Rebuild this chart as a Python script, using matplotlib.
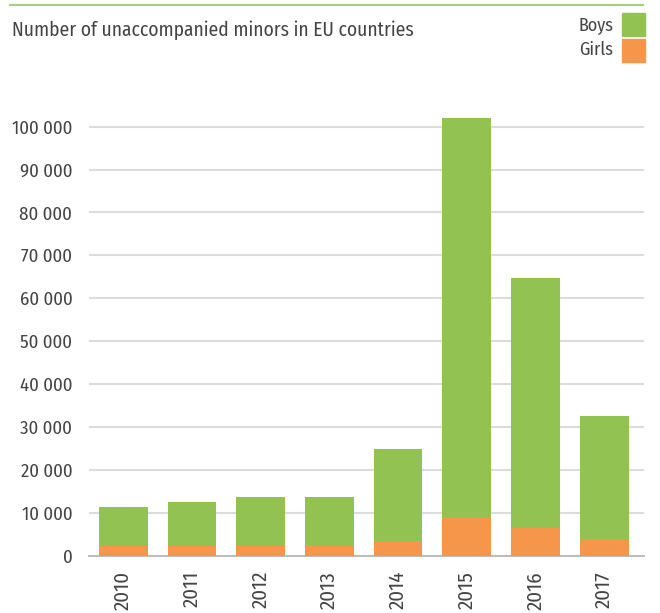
import matplotlib.pyplot as plt
from matplotlib.lines import Line2D
from matplotlib.patches import Rectangle
from matplotlib.ticker import FuncFormatter

years = ["2010", "2011", "2012", "2013", "2014", "2015", "2016", "2017"]
girls = [2300, 2300, 2300, 2300, 3400, 9000, 6500, 3900]
totals = [11350, 12500, 13700, 13700, 24900, 102000, 64700, 32600]
boys = [t - g for t, g in zip(totals, girls)]

green = "#92c251"
orange = "#f5964a"
text_col = "#444444"

plt.rcParams["font.family"] = ["Fira Sans Condensed", "Liberation Sans", "DejaVu Sans"]

fig = plt.figure(figsize=(6.6, 6.13), dpi=100)
ax = fig.add_axes([89 / 660, 57.3 / 613, 555 / 660, 450.5 / 613])

x = range(len(years))
ax.bar(x, girls, width=0.71, color=orange, zorder=3)
ax.bar(x, boys, bottom=girls, width=0.71, color=green, zorder=3)

ax.set_ylim(0, 105000)
ax.set_xlim(-0.5, 7.58)
ax.set_yticks(range(0, 100001, 10000))
ax.yaxis.set_major_formatter(FuncFormatter(lambda v, p: f"{int(v):,}".replace(",", " ")))
ax.set_xticks(list(x))
ax.set_xticklabels(years, rotation=90, fontsize=15, color=text_col)
ax.tick_params(axis="y", labelsize=13.5, labelcolor=text_col, length=0, pad=12)
ax.tick_params(axis="x", length=0, pad=11)
ax.grid(axis="y", color="#dcdcdc", lw=1.5, zorder=0)
for s in ["top", "right", "left"]:
    ax.spines[s].set_visible(False)
ax.spines["bottom"].set_color("#bdbdbd")
ax.spines["bottom"].set_linewidth(1.5)

# header rule, title and legend
fig.add_artist(Line2D([10 / 660, 643 / 660], [1 - 5 / 613, 1 - 5 / 613], color="#a9cf7a", lw=1.5))
fig.text(12 / 660, 1 - 30 / 613, "Number of unaccompanied minors in EU countries",
         fontsize=14, color=text_col, va="center", ha="left")
fig.text(613 / 660, 1 - 25 / 613, "Boys", fontsize=13, color=text_col, va="center", ha="right")
fig.text(613 / 660, 1 - 50 / 613, "Girls", fontsize=13, color=text_col, va="center", ha="right")
fig.add_artist(Rectangle((622 / 660, 1 - 36 / 613), 23 / 660, 23 / 613, color=green, transform=fig.transFigure))
fig.add_artist(Rectangle((622 / 660, 1 - 62 / 613), 23 / 660, 23 / 613, color=orange, transform=fig.transFigure))

fig.savefig("out.png", dpi=100)
